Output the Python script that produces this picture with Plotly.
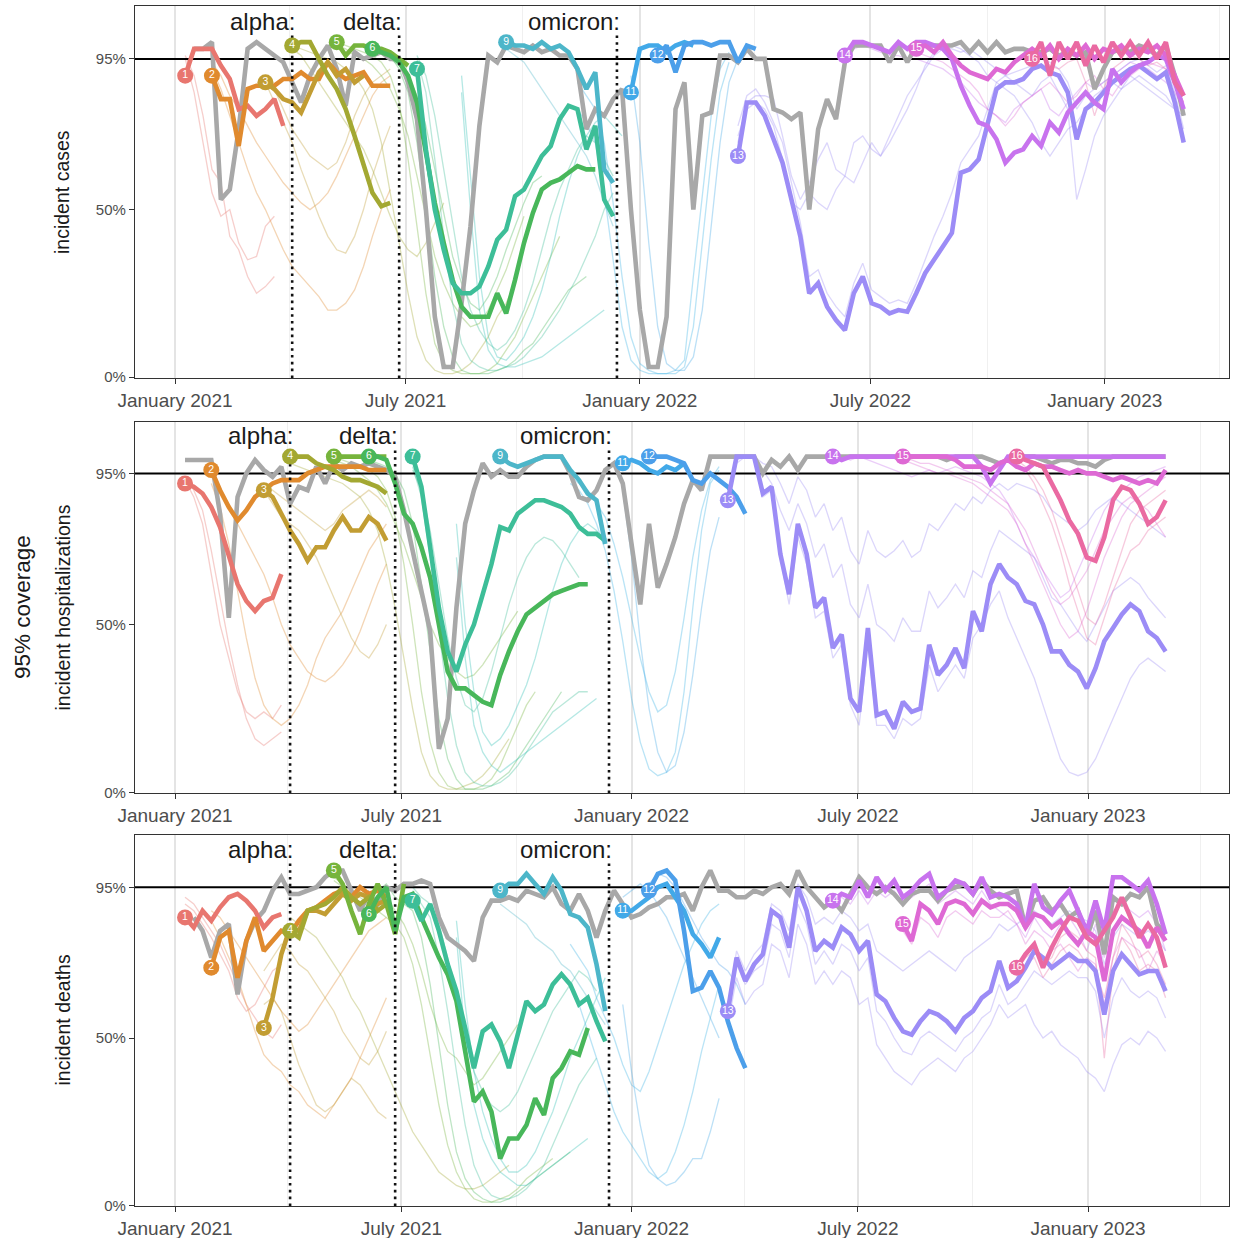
import pandas as pd
import plotly.graph_objects as go

W, H = 1241, 1238

# ---------------- metadata ----------------
ROUND_START = {1: "2021-01-09", 2: "2021-01-30", 3: "2021-03-13", 4: "2021-04-03",
               5: "2021-05-08", 6: "2021-06-05", 7: "2021-07-10", 8: "2021-08-14",
               9: "2021-09-18", 10: "2021-11-13", 11: "2021-12-25", 12: "2022-01-15",
               13: "2022-03-19", 14: "2022-06-11", 15: "2022-08-06", 16: "2022-11-05"}
ROUND_COLOR = {1: "#E8766F", 2: "#E08A2E", 3: "#C29D33", 4: "#A3A832", 5: "#76B43C",
               6: "#48B75A", 7: "#3DBE98", 8: "#2FC0B5", 9: "#4DB6C9", 10: "#3BB3E6",
               11: "#42A9E8", 12: "#4C9FEA", 13: "#9C8CF6", 14: "#C873EE", 15: "#DE69D4",
               16: "#EA6AA2"}
GREY = "#A8A8A8"
variant_names = ["alpha", "delta", "omicron"]
variant_dates = ["2021-04-03", "2021-06-26", "2021-12-14"]
panel_titles = ["incident cases", "incident hospitalizations", "incident deaths"]
x_tick_dates = ["2021-01-01", "2021-07-01", "2022-01-01", "2022-07-01", "2023-01-01"]
x_tick_text = ["January 2021", "July 2021", "January 2022", "July 2022", "January 2023"]
x_minor_dates = ["2021-04-01", "2021-10-01", "2022-04-01", "2022-10-01", "2023-04-01"]
y_tick_vals = [0, 50, 95]
y_tick_text = ["0%", "50%", "95%"]
target_coverage = 95

# ---------------- incident cases ----------------
cases_grey_start = "2021-01-16"
cases_grey = [98, 98, 100, 53, 56, 74, 98, 100, 98, 96, 94, 88, 82, 90, 95, 99, 92, 81, 97, 95,
              96, 97, 95, 95, 88, 77, 50, 18, 3, 3, 22, 45, 75, 96, 94, 99, 98, 97, 99, 97,
              98, 96, 96, 92, 74, 80, 78, 83, 86, 50, 20, 3, 3, 18, 80, 88, 50, 78, 79, 96,
              96, 94, 98, 95, 95, 80, 79, 77, 79, 50, 74, 83, 77, 94, 99, 99, 99, 99, 94, 99,
              94, 99, 99, 99, 99, 99, 100, 97, 100, 97, 100, 97, 98, 98, 97, 97, 98, 96, 97, 96,
              97, 86, 92, 97, 98, 97, 99, 98, 96, 99, 90, 78]
cases_r1 = [90, 98, 98, 98, 93, 89, 80, 81, 78, 80, 83, 75]
cases_r2 = [90, 83, 83, 69, 86, 87, 87, 87, 89, 89, 91, 89, 89, 94, 91, 89, 90, 91, 87, 87, 87]
cases_r3 = [88, 86, 83, 82, 79, 85, 91, 94, 90, 92, 88, 90]
cases_r4 = [99, 100, 100, 95, 90, 86, 80, 72, 64, 55, 51, 52]
cases_r5 = [100, 96, 99, 99, 98, 98, 97, 95, 93]
cases_r6 = [98, 97, 96, 94, 90, 82, 66, 52, 40, 29, 21, 18, 18, 18, 25, 19, 29, 40, 49, 56,
            58, 59, 61, 63, 62, 62]
cases_r7 = [92, 68, 50, 38, 28, 25, 25, 27, 33, 41, 44, 54, 56, 61, 66, 69, 77, 81, 80, 68,
            75, 53, 48]
cases_r9 = [100, 99, 99, 98, 100, 98, 99, 97, 92, 86, 91, 62, 58]
cases_r11 = [85, 98, 99, 99, 97, 99, 100, 99]
cases_r12 = [96, 99, 91, 99, 100, 100, 99, 100, 100, 94, 99, 98]
cases_r13 = [66, 82, 82, 78, 71, 64, 53, 42, 25, 28, 21, 17, 14, 25, 30, 22, 21, 19, 20, 19.5,
             25, 31, 35, 39, 43, 61, 62, 65, 76, 86, 88, 88, 89, 92, 93, 91, 90, 85, 71, 80,
             82, 85, 88, 90, 92, 93, 91, 89, 91, 82, 70]
cases_r14 = [96, 100, 100, 99, 98, 97, 100, 98, 100, 100, 99, 98, 95, 87, 81, 76, 75, 71, 64, 67,
             68, 72, 69, 76, 73, 79, 82, 85, 82, 80, 92, 88, 91, 93, 94, 96, 95, 88, 80]
cases_r15 = [98, 99, 97, 100, 96, 93, 91, 90, 89, 92, 91, 94, 96, 98, 96, 99, 95, 98, 96, 99,
             95, 98, 97, 99, 96, 98, 97, 99, 96, 90, 84]
cases_r16 = [95, 100, 90, 100, 95, 100, 93, 99, 94, 100, 96, 100, 96, 100, 95, 100, 88, 84]

cases_thin_r1 = [[95, 85, 70, 55, 48, 50, 40, 35, 36, 45, 48],
                 [96, 90, 78, 62, 58, 42, 38, 30, 25, 27, 30]]
cases_thin_r2 = [[92, 86, 78, 70, 62, 55, 50, 44, 38, 33, 30, 27, 24, 20, 20, 22, 26, 33, 42, 50, 56],
                 [94, 90, 84, 80, 75, 70, 66, 62, 58, 55, 52, 50, 52, 55, 60, 66, 72, 78, 84, 88, 90]]
cases_thin_r3 = [[88, 82, 76, 70, 62, 55, 48, 42, 38, 37, 42, 50, 60, 68, 75],
                 [90, 86, 80, 74, 70, 66, 64, 62, 64, 70, 78, 84, 88, 90, 92]]
cases_thin_r4 = [[99, 98, 97, 96, 95, 94, 92, 90, 86, 80, 70, 55, 40, 25, 12, 5, 2, 1, 1, 2, 4, 8, 12, 18, 22, 28],
                 [98, 96, 92, 88, 84, 80, 76, 72, 68, 62, 55, 48, 42, 38, 36, 40, 46, 52]]
cases_thin_r5 = [[100, 99, 98, 97, 96, 94, 90, 82, 65, 45, 25, 10, 4, 2, 1, 1, 1, 2, 4, 8, 12, 18, 24, 30, 36, 42],
                 [99, 98, 96, 95, 93, 90, 86, 80, 72, 60, 48, 36, 28, 22, 18, 15, 16, 20, 26, 32, 40, 48]]
cases_thin_r6 = [[99, 98, 96, 92, 85, 70, 50, 30, 15, 6, 2, 1, 1, 1, 2, 3, 5, 8, 10, 14, 18, 22, 26, 28, 30],
                 [98, 97, 95, 93, 90, 84, 75, 62, 48, 36, 28, 22, 20, 24, 30, 38, 45, 52, 58, 60]]
cases_thin_r7 = [[95, 85, 65, 42, 22, 10, 5, 3, 2, 2, 3, 4, 6, 9, 12, 16, 20, 25, 30, 36, 42, 50, 55],
                 [96, 90, 78, 62, 45, 30, 20, 14, 10, 8, 10, 14, 20, 28, 38, 48, 56, 62, 68, 72, 70, 65, 60]]
cases_thin_r8 = [[90, 60, 30, 12, 6, 5, 8, 12, 18, 26, 36, 48, 58, 66, 72, 76, 78, 75, 72],
                 [85, 50, 20, 8, 4, 3, 3, 4, 5, 6, 8, 10, 12, 14, 16, 18, 20]]
cases_thin_r9 = [[98, 96, 94, 90, 86, 82, 78, 74, 70, 66, 60, 52, 45]]
cases_thin_r10 = [[80, 76, 70, 55, 35, 15, 5, 2, 1, 1, 1, 2, 5, 30, 55, 78, 92, 97],
                  [88, 84, 80, 70, 52, 30, 12, 4, 2, 1, 1, 1, 3, 15, 40, 65, 85, 94]]
cases_thin_r11 = [[90, 70, 40, 15, 4, 2, 2, 6, 20, 45, 70, 88, 95]]
cases_thin_r13 = [[70, 82, 84, 84, 83, 72, 60, 53, 58, 65, 70, 62, 60, 70, 72, 68, 66, 70, 75, 80,
                   86, 93, 97, 99, 98, 97, 98, 96, 94, 92, 90, 88, 86, 84, 88, 90, 85, 80, 53, 62,
                   72, 78, 82, 86, 88, 90, 88, 86, 84, 80, 70],
                  [75, 84, 86, 82, 76, 70, 58, 46, 30, 32, 25, 21, 18, 28, 34, 26, 24, 22, 23, 22,
                   28, 35, 42, 48, 55, 64, 68, 72, 80, 88, 90, 91, 92, 93, 95, 94, 92, 88, 80, 84,
                   86, 88, 90, 92, 94, 95, 93, 91, 93, 85, 74],
                  [72, 80, 82, 80, 75, 65, 52, 50, 55, 52, 50, 56, 60, 58, 64, 70, 66, 72, 78, 84,
                   88, 92, 96, 98, 99, 98, 96, 94, 90, 88, 86, 84, 80, 76, 70, 66, 70, 74, 76, 80,
                   84, 86, 88, 86, 90, 88, 86, 84, 82, 80, 78]]
cases_thin_r14 = [[96, 98, 99, 98, 97, 96, 96, 95, 95, 94, 93, 92, 90, 88, 85, 82, 80, 78, 76, 80,
                   82, 84, 86, 80, 78, 82, 85, 88, 86, 88, 90, 92, 94, 93, 92, 90, 88, 85, 80]]
cases_thin_r15 = [[97, 96, 95, 94, 92, 90, 88, 85, 80, 78, 75, 78, 82, 84, 86, 88, 85, 82, 84, 88,
                   90, 86, 84, 88, 90, 92, 94, 93, 92, 88, 82]]
cases_thin_r16 = [[95, 96, 93, 92, 94, 95, 88, 78, 86, 92, 94, 96, 95, 93, 94, 92, 88, 82]]

# ---------------- incident hospitalizations ----------------
hosp_grey_start = "2021-01-09"
hosp_grey = [99, 99, 99, 99, 83, 52, 88, 95, 99, 96, 94, 97, 86, 91, 90, 97, 92, 98, 96, 98,
             97, 98, 97, 96, 94, 84, 72, 60, 48, 13, 22, 55, 80, 90, 98, 94, 96, 94, 94, 97,
             99, 100, 100, 100, 95, 88, 87, 90, 96, 98, 92, 74, 56, 80, 61, 68, 76, 86, 93, 90,
             100, 100, 100, 100, 100, 100, 95, 99, 97, 100, 96, 100, 100, 100, 100, 100, 100, 100, 100, 100,
             100, 100, 99, 100, 100, 100, 100, 99, 100, 100, 100, 100, 99, 98, 99, 100, 100, 100, 99, 98,
             99, 99, 98, 98, 97, 99, 100, 100, 100, 100, 100, 100, 100]
hosp_r1 = [92, 91, 89, 85, 79, 70, 62, 57, 54, 57, 58, 65]
hosp_r2 = [96, 90, 85, 81, 84, 88, 90, 92, 93, 93, 93, 95, 96, 97, 97, 97, 97, 97, 96, 96, 96]
hosp_r3 = [90, 88, 83, 78, 74, 69, 73, 73, 78, 82, 78, 78, 82, 80, 75]
hosp_r4 = [100, 100, 100, 98, 97, 96, 94, 93, 93, 92, 91, 89]
hosp_r5 = [100, 100, 100, 100, 100, 100, 100]
hosp_r6 = [100, 100, 99, 92, 83, 80, 73, 64, 50, 36, 31, 31, 29, 27, 26, 35, 42, 48, 53, 55,
           57, 59, 60, 61, 62, 62]
hosp_r7 = [100, 91, 73, 55, 42, 36, 44, 50, 59, 68, 79, 78, 83, 85, 87, 87, 86, 85, 83, 79,
           77, 77, 75]
hosp_r9 = [100, 98, 97, 98, 99, 100, 100, 100, 96, 93, 89, 87, 74]
hosp_r11 = [98, 99, 98, 96, 95, 97, 96, 98]
hosp_r12 = [100, 100, 100, 99, 98, 93, 92, 95, 93, 91, 88, 83]
hosp_r13 = [87, 100, 100, 100, 89, 91, 71, 59, 80, 71, 55, 58, 43, 47, 28, 24, 49, 23, 24, 19,
            27, 24, 25, 44, 35, 38, 43, 37, 54, 48, 62, 68, 64, 62, 57, 56, 50, 42, 42, 38,
            36, 31, 37, 45, 49, 53, 56, 54, 48, 46, 42]
hosp_r14 = [100, 99, 100, 100, 100, 100, 100, 100, 100, 100, 100, 100, 100, 100, 100, 100, 100, 97, 92, 96,
            100, 100, 100, 100, 100, 100, 100, 100, 100, 100, 100, 100, 100, 100, 100, 100, 100, 100, 100]
hosp_r15 = [100, 100, 100, 100, 100, 100, 99, 97, 97, 97, 96, 98, 99, 97, 96, 98, 97, 97, 96, 95,
            96, 95, 95, 94, 93, 94, 93, 92, 93, 92, 96]
hosp_r16 = [100, 99, 98, 97, 92, 87, 81, 77, 70, 69, 76, 87, 91, 90, 86, 80, 82, 87]

hosp_thin_r1 = [[93, 88, 80, 65, 50, 40, 30, 24, 22, 24, 22, 26],
                [94, 90, 84, 72, 58, 44, 32, 22, 16, 14, 16, 18]]
hosp_thin_r2 = [[92, 85, 74, 60, 46, 34, 26, 22, 20, 22, 26, 32, 40, 46, 50, 54, 60, 66, 72, 76, 80],
                [94, 90, 85, 80, 75, 70, 65, 58, 50, 44, 40, 36, 34, 33, 35, 38, 42, 48, 55, 62, 68]]
hosp_thin_r3 = [[90, 86, 82, 80, 78, 74, 70, 64, 58, 52, 46, 42, 40, 44, 50],
                [92, 90, 88, 86, 84, 82, 80, 78, 80, 84, 86, 88, 90, 88, 85]]
hosp_thin_r4 = [[98, 97, 96, 95, 94, 93, 92, 90, 88, 84, 78, 68, 55, 40, 25, 12, 5, 2, 1, 1, 2, 3, 5, 8, 12, 16]]
hosp_thin_r5 = [[100, 99, 98, 97, 96, 94, 90, 82, 68, 50, 30, 15, 6, 2, 1, 1, 1, 2, 4, 8, 14, 20, 26, 30],
                [99, 98, 97, 95, 93, 90, 86, 80, 74, 66, 58, 50, 44, 40, 36, 34, 35, 38, 42, 46, 50, 54]]
hosp_thin_r6 = [[99, 98, 97, 95, 90, 80, 62, 42, 22, 10, 4, 1, 1, 1, 2, 4, 6, 10, 14, 18, 22, 26, 30]]
hosp_thin_r7 = [[97, 88, 70, 48, 28, 14, 6, 3, 2, 2, 3, 5, 8, 12, 16, 20, 24, 26, 28, 30, 30],
                [96, 90, 78, 62, 46, 34, 26, 24, 28, 36, 46, 56, 64, 70, 74, 76, 75, 72, 68, 64]]
hosp_thin_r8 = [[80, 50, 30, 18, 14, 16, 20, 26, 32, 40, 50, 60, 68, 74, 78, 80, 78, 75],
                [70, 40, 20, 12, 8, 6, 8, 10, 12, 14, 16, 18, 20, 22, 24, 26, 28]]
hosp_thin_r10 = [[92, 90, 86, 80, 72, 60, 45, 28, 15, 7, 5, 6, 12, 30, 55, 78, 92, 96],
                 [94, 92, 90, 86, 82, 74, 64, 52, 40, 30, 24, 26, 36, 52, 70, 84, 93, 97]]
hosp_thin_r11 = [[90, 70, 45, 25, 12, 6, 8, 18, 35, 55, 72, 82]]
hosp_thin_r13 = [[88, 98, 100, 100, 96, 92, 84, 78, 86, 80, 70, 74, 64, 68, 56, 52, 62, 50, 48, 45,
                  52, 48, 48, 60, 55, 58, 62, 58, 66, 64, 72, 78, 76, 74, 72, 70, 64, 58, 56, 52,
                  48, 45, 50, 55, 60, 62, 64, 62, 58, 55, 52],
                 [90, 100, 100, 100, 98, 97, 92, 86, 94, 90, 82, 86, 78, 82, 72, 68, 78, 72, 70, 72,
                  75, 70, 72, 80, 78, 82, 86, 84, 88, 86, 90, 92, 90, 92, 91, 90, 88, 84, 82, 80,
                  78, 80, 84, 86, 88, 86, 84, 82, 80, 78, 76],
                 [86, 99, 100, 100, 88, 90, 70, 56, 76, 68, 52, 54, 40, 44, 26, 20, 44, 20, 20, 16,
                  22, 20, 22, 38, 30, 34, 38, 34, 46, 50, 56, 60, 52, 46, 40, 34, 26, 18, 10, 6,
                  5, 6, 10, 16, 22, 28, 34, 38, 40, 38, 36]]
hosp_thin_r14 = [[100, 100, 99, 100, 99, 98, 97, 96, 95, 94, 95, 96, 95, 96, 97, 96, 95, 94, 92, 90,
                  86, 80, 74, 70, 66, 62, 58, 60, 66, 72, 78, 84, 88, 90, 92, 94, 95, 96, 97]]
hosp_thin_r15 = [[99, 98, 97, 96, 95, 95, 94, 93, 92, 90, 88, 86, 84, 80, 74, 68, 62, 56, 50, 46,
                  48, 54, 62, 70, 76, 82, 86, 88, 90, 92, 94],
                 [99, 99, 98, 98, 97, 96, 95, 94, 93, 92, 90, 88, 86, 82, 78, 72, 66, 60, 56, 58,
                  62, 66, 72, 78, 82, 86, 88, 86, 84, 80, 76]]
hosp_thin_r16 = [[99, 97, 94, 90, 84, 76, 68, 60, 52, 50, 56, 64, 72, 80, 84, 86, 88, 90],
                 [98, 96, 92, 86, 80, 72, 62, 54, 46, 44, 52, 60, 66, 72, 74, 78, 80, 82]]

# ---------------- incident deaths ----------------
deaths_grey_start = "2021-01-16"
deaths_grey = [86, 82, 74, 82, 84, 63, 79, 85, 88, 94, 98, 93, 93, 94, 95, 98, 100, 100, 94, 88,
               93, 90, 95, 94, 96, 96, 97, 96, 86, 80, 78, 76, 73, 86, 91, 91, 92, 91, 94, 93,
               92, 95, 90, 88, 93, 88, 80, 88, 94, 90, 86, 87, 89, 90, 92, 92, 93, 88, 95, 100,
               94, 94, 92, 92, 94, 93, 95, 96, 93, 100, 95, 92, 89, 91, 88, 93, 98, 95, 93, 95,
               93, 90, 93, 94, 94, 91, 94, 95, 96, 93, 97, 94, 92, 93, 94, 83, 91, 92, 88, 90,
               86, 88, 80, 88, 75, 92, 90, 93, 92, 95, 84, 81]
deaths_r1 = [86, 83, 88, 85, 89, 92, 93, 91, 88, 83, 86, 87]
deaths_r2 = [71, 80, 82, 68, 79, 86, 76, 79, 82, 81, 85, 88, 89, 91, 93, 94, 92, 95, 93, 94, 92]
deaths_r3 = [53, 62, 75, 83, 82, 88, 88, 87, 90, 93, 91, 93, 92, 90, 91]
deaths_r4 = [82, 80, 88, 89, 90, 92, 95, 92, 90, 92, 88, 90]
deaths_r5 = [100, 96, 88, 81, 90, 96, 90, 81, 96]
deaths_r6 = [87, 92, 95, 82, 92, 93, 86, 80, 74, 69, 61, 46, 31, 34, 28, 14, 20, 20, 24, 32,
             27, 38, 41, 46, 45, 53]
deaths_r7 = [91, 85, 90, 82, 72, 64, 53, 41, 52, 54, 49, 41, 51, 61, 58, 60, 66, 69, 66, 60,
             62, 55, 49]
deaths_r9 = [94, 96, 96, 99, 96, 93, 98, 94, 87, 86, 83, 72, 58]
deaths_r11 = [88, 88, 90, 92, 95, 96, 92, 88, 81, 78, 74, 80]
deaths_r12 = [94, 99, 100, 97, 82, 64, 65, 70, 65, 55, 47, 41]
deaths_r13 = [58, 74, 67, 72, 75, 88, 86, 77, 95, 88, 76, 79, 77, 83, 81, 76, 79, 63, 61, 56,
              52, 51, 55, 58, 57, 55, 52, 56, 58, 62, 64, 73, 65, 67, 71, 76, 74, 71, 73, 75,
              73, 73, 70, 57, 70, 75, 72, 69, 70, 70, 64]
deaths_r14 = [91, 93, 92, 97, 92, 98, 94, 97, 92, 94, 97, 99, 92, 94, 97, 96, 93, 98, 92, 93,
              92, 90, 83, 96, 89, 87, 91, 94, 88, 82, 91, 82, 98, 98, 96, 94, 97, 90, 81]
deaths_r15 = [84, 79, 90, 88, 84, 90, 91, 90, 87, 91, 89, 90, 90, 88, 83, 87, 86, 83, 85, 81,
              78, 82, 80, 67, 82, 86, 84, 82, 77, 83, 79]
deaths_r16 = [71, 75, 78, 71, 77, 82, 86, 85, 80, 78, 82, 86, 92, 86, 80, 84, 80, 71]

deaths_thin_r1 = [[90, 88, 84, 80, 75, 70, 62, 58, 60, 65, 70, 72],
                  [92, 90, 86, 82, 78, 72, 66, 60, 56, 52, 50, 54]]
deaths_thin_r2 = [[85, 80, 74, 68, 60, 52, 45, 42, 40, 36, 34, 30, 28, 26, 30, 34, 38, 44, 50, 56, 62],
                  [88, 86, 82, 78, 74, 70, 66, 62, 58, 55, 52, 54, 58, 62, 66, 70, 74, 78, 82, 84, 86]]
deaths_thin_r3 = [[60, 62, 58, 50, 42, 36, 30, 28, 30, 34, 38, 36, 32, 28, 26],
                  [70, 74, 78, 76, 72, 70, 66, 62, 58, 52, 48, 44, 42, 46, 52]]
deaths_thin_r4 = [[86, 84, 82, 80, 76, 72, 68, 62, 58, 52, 46, 40, 34, 28, 22, 18, 14, 10, 8, 6, 5, 5, 6, 8, 10, 12]]
deaths_thin_r5 = [[98, 96, 94, 92, 90, 88, 86, 84, 80, 72, 60, 45, 30, 18, 10, 5, 2, 1, 1, 2, 3, 5, 8, 10, 12, 14],
                  [97, 95, 92, 90, 92, 94, 92, 88, 84, 78, 70, 60, 52, 46, 44, 40, 36, 38, 42, 46, 50, 54]]
deaths_thin_r6 = [[95, 94, 96, 92, 90, 88, 80, 66, 48, 30, 16, 8, 4, 2, 1, 1, 2, 4, 6, 8, 10, 12, 14, 16]]
deaths_thin_r7 = [[94, 90, 86, 74, 58, 40, 24, 12, 6, 3, 2, 2, 3, 5, 8, 12, 18, 24, 30, 36, 40, 44],
                  [95, 92, 90, 84, 74, 62, 50, 40, 34, 30, 28, 30, 34, 40, 46, 52, 58, 62, 66, 70, 68, 64]]
deaths_thin_r8 = [[85, 60, 40, 28, 20, 14, 10, 10, 12, 16, 22, 28, 36, 44, 50, 56, 62, 68],
                  [80, 50, 30, 20, 14, 10, 8, 6, 6, 8, 10, 12, 14, 16, 18, 20]]
deaths_thin_r9 = [[90, 88, 86, 84, 80, 78, 76, 72, 70, 66, 62, 58, 54]]
deaths_thin_r10 = [[78, 74, 70, 62, 56, 50, 42, 36, 34, 40, 48, 56, 64, 72, 78, 84, 88, 90],
                   [66, 60, 52, 44, 36, 28, 22, 18, 14, 10, 8, 10, 16, 24, 34, 46, 56, 66]]
deaths_thin_r11 = [[92, 94, 96, 94, 90, 86, 80, 74, 68, 62, 56, 50],
                   [60, 40, 24, 12, 8, 6, 7, 10, 14, 14, 22, 32]]
deaths_thin_r12 = [[96, 99, 98, 95, 90, 85, 80, 76, 72, 70, 66, 60]]
deaths_thin_r13 = [[56, 72, 66, 70, 72, 84, 82, 74, 90, 84, 72, 76, 72, 78, 76, 70, 74, 58, 55, 50,
                    46, 45, 50, 52, 50, 48, 46, 50, 52, 56, 58, 66, 60, 62, 66, 70, 68, 66, 68, 70,
                    68, 68, 64, 50, 62, 68, 64, 62, 64, 62, 56],
                   [60, 76, 70, 75, 78, 90, 88, 82, 96, 92, 84, 86, 84, 88, 86, 82, 84, 76, 74, 72,
                    70, 72, 74, 76, 74, 72, 70, 74, 76, 78, 80, 84, 82, 84, 86, 88, 86, 84, 86, 88,
                    86, 85, 82, 72, 80, 84, 82, 80, 82, 80, 76],
                   [54, 68, 60, 64, 66, 78, 76, 68, 84, 78, 66, 70, 66, 70, 68, 60, 62, 48, 44, 40,
                    38, 36, 40, 42, 44, 42, 40, 44, 46, 50, 54, 60, 56, 58, 60, 54, 50, 52, 48, 46,
                    44, 40, 38, 34, 42, 48, 50, 48, 52, 50, 46]]
deaths_thin_r14 = [[90, 92, 90, 94, 90, 94, 92, 94, 90, 92, 94, 96, 90, 92, 94, 92, 90, 94, 90, 88,
                    86, 84, 80, 86, 82, 80, 84, 86, 82, 76, 84, 74, 88, 90, 88, 86, 88, 84, 76]]
deaths_thin_r15 = [[82, 78, 86, 84, 80, 86, 88, 86, 84, 88, 86, 86, 88, 84, 78, 82, 80, 76, 78, 74,
                    70, 74, 72, 60, 74, 80, 78, 76, 70, 76, 72]]
deaths_thin_r16 = [[68, 72, 74, 68, 72, 76, 78, 76, 72, 70, 62, 74, 84, 80, 74, 76, 72, 66],
                   [70, 74, 76, 72, 74, 80, 82, 80, 76, 74, 44, 70, 80, 76, 70, 72, 70, 62]]

# ---------------- assemble per-panel tables ----------------
panels = [
    dict(
        grey=cases_grey, grey_start=cases_grey_start,
        thick={1: cases_r1, 2: cases_r2, 3: cases_r3, 4: cases_r4, 5: cases_r5, 6: cases_r6,
               7: cases_r7, 9: cases_r9, 11: cases_r11, 12: cases_r12, 13: cases_r13,
               14: cases_r14, 15: cases_r15, 16: cases_r16},
        thin={1: cases_thin_r1, 2: cases_thin_r2, 3: cases_thin_r3, 4: cases_thin_r4,
              5: cases_thin_r5, 6: cases_thin_r6, 7: cases_thin_r7, 8: cases_thin_r8,
              9: cases_thin_r9, 10: cases_thin_r10, 11: cases_thin_r11, 13: cases_thin_r13,
              14: cases_thin_r14, 15: cases_thin_r15, 16: cases_thin_r16},
        xrange=["2020-11-30 14:00", "2023-04-08 14:00"],
        yrange=[-0.3, 110.8],
        ydom=[1 - 378 / H, 1 - 6 / H],
    ),
    dict(
        grey=hosp_grey, grey_start=hosp_grey_start,
        thick={1: hosp_r1, 2: hosp_r2, 3: hosp_r3, 4: hosp_r4, 5: hosp_r5, 6: hosp_r6,
               7: hosp_r7, 9: hosp_r9, 11: hosp_r11, 12: hosp_r12, 13: hosp_r13,
               14: hosp_r14, 15: hosp_r15, 16: hosp_r16},
        thin={1: hosp_thin_r1, 2: hosp_thin_r2, 3: hosp_thin_r3, 4: hosp_thin_r4,
              5: hosp_thin_r5, 6: hosp_thin_r6, 7: hosp_thin_r7, 8: hosp_thin_r8,
              10: hosp_thin_r10, 11: hosp_thin_r11, 13: hosp_thin_r13, 14: hosp_thin_r14,
              15: hosp_thin_r15, 16: hosp_thin_r16},
        xrange=["2020-11-30 00:00", "2023-04-23 17:00"],
        yrange=[-0.15, 110.3],
        ydom=[1 - 793 / H, 1 - 422 / H],
    ),
    dict(
        grey=deaths_grey, grey_start=deaths_grey_start,
        thick={1: deaths_r1, 2: deaths_r2, 3: deaths_r3, 4: deaths_r4, 5: deaths_r5,
               6: deaths_r6, 7: deaths_r7, 9: deaths_r9, 11: deaths_r11, 12: deaths_r12,
               13: deaths_r13, 14: deaths_r14, 15: deaths_r15, 16: deaths_r16},
        thin={1: deaths_thin_r1, 2: deaths_thin_r2, 3: deaths_thin_r3, 4: deaths_thin_r4,
              5: deaths_thin_r5, 6: deaths_thin_r6, 7: deaths_thin_r7, 8: deaths_thin_r8,
              9: deaths_thin_r9, 10: deaths_thin_r10, 11: deaths_thin_r11, 12: deaths_thin_r12,
              13: deaths_thin_r13, 14: deaths_thin_r14, 15: deaths_thin_r15, 16: deaths_thin_r16},
        xrange=["2020-11-30 00:00", "2023-04-23 17:00"],
        yrange=[-0.15, 110.6],
        ydom=[1 - 1206 / H, 1 - 835 / H],
    ),
]


def weekly(start, n):
    return pd.date_range(start=start, periods=n, freq="7D")


FONT = "Liberation Sans, Arial, Helvetica, sans-serif"
fig = go.Figure()
annotations = []
XDOM = [135 / W, 1229 / W]

for i, p in enumerate(panels, start=1):
    xa = "x" if i == 1 else f"x{i}"
    ya = "y" if i == 1 else f"y{i}"
    common = dict(xaxis=xa, yaxis=ya, hoverinfo="skip", showlegend=False)

    # thin scenario lines
    for r, lists in p["thin"].items():
        for vals in lists:
            fig.add_trace(go.Scatter(x=weekly(ROUND_START[r], len(vals)), y=vals, mode="lines",
                                     line=dict(color=ROUND_COLOR[r], width=1.3),
                                     opacity=0.35, **common))
    # 95% reference line across the panel
    fig.add_trace(go.Scatter(x=p["xrange"], y=[target_coverage, target_coverage], mode="lines",
                             line=dict(color="black", width=2), **common))
    # grey thick line
    g = p["grey"]
    fig.add_trace(go.Scatter(x=weekly(p["grey_start"], len(g)), y=g, mode="lines",
                             line=dict(color=GREY, width=4.6), **common))
    # thick round lines
    for r, vals in p["thick"].items():
        fig.add_trace(go.Scatter(x=weekly(ROUND_START[r], len(vals)), y=vals, mode="lines",
                                 line=dict(color=ROUND_COLOR[r], width=4.6), **common))
    # variant dotted lines
    for name, d in zip(variant_names, variant_dates):
        fig.add_trace(go.Scatter(x=[d, d], y=[p["yrange"][0], 103], mode="lines",
                                 line=dict(color="#111111", width=2.6, dash="2.6px,4.2px"),
                                 **common))
        annotations.append(dict(x=d, y=106.3, xref=xa, yref=ya, text=name + ":",
                                showarrow=False, xanchor="right", yanchor="middle", xshift=5,
                                font=dict(family=FONT, size=24, color="#1a1a1a")))
    # round number badges
    rs = list(p["thick"].keys())
    fig.add_trace(go.Scatter(
        x=[weekly(ROUND_START[r], 1)[0] for r in rs],
        y=[p["thick"][r][0] for r in rs],
        mode="markers+text", text=[str(r) for r in rs], textposition="middle center",
        marker=dict(size=16, color=[ROUND_COLOR[r] for r in rs], line=dict(width=0)),
        textfont=dict(family=FONT, size=10.5, color="white"),
        cliponaxis=False, **common))

    axis_x = dict(domain=XDOM, anchor=ya, type="date", range=p["xrange"],
                  tickmode="array", tickvals=x_tick_dates, ticktext=x_tick_text,
                  ticks="outside", ticklen=5, tickwidth=1.2, tickcolor="#333333",
                  tickfont=dict(family=FONT, size=19, color="#4D4D4D"),
                  showgrid=True, gridcolor="#E4E4E4", gridwidth=1.6,
                  minor=dict(tickmode="array", tickvals=x_minor_dates, showgrid=True,
                             gridcolor="#F0F0F0", gridwidth=1.0, ticks=""),
                  showline=True, mirror=True, linecolor="#333333", linewidth=1.3,
                  zeroline=False, automargin=False, fixedrange=True)
    axis_y = dict(domain=p["ydom"], anchor=xa, range=p["yrange"],
                  tickmode="array", tickvals=y_tick_vals, ticktext=y_tick_text,
                  ticks="outside", ticklen=5, tickwidth=1.2, tickcolor="#333333",
                  tickfont=dict(family=FONT, size=15, color="#4D4D4D"),
                  showgrid=False, zeroline=False,
                  showline=True, mirror=True, linecolor="#333333", linewidth=1.3,
                  automargin=False, fixedrange=True)
    fig.layout["xaxis" if i == 1 else f"xaxis{i}"] = axis_x
    fig.layout["yaxis" if i == 1 else f"yaxis{i}"] = axis_y

    annotations.append(dict(x=62 / W, y=sum(p["ydom"]) / 2, xref="paper", yref="paper",
                            text=panel_titles[i - 1], showarrow=False, textangle=-90,
                            xanchor="center", yanchor="middle",
                            font=dict(family=FONT, size=19.5, color="#1a1a1a")))

annotations.append(dict(x=22 / W, y=1 - 607 / H, xref="paper", yref="paper",
                        text="95% coverage", showarrow=False, textangle=-90,
                        xanchor="center", yanchor="middle",
                        font=dict(family=FONT, size=22.5, color="#1a1a1a")))

fig.update_layout(width=W, height=H, margin=dict(l=0, r=0, t=0, b=0),
                  plot_bgcolor="white", paper_bgcolor="white",
                  annotations=annotations, showlegend=False)

fig.write_html("out.html", config={"displayModeBar": False, "staticPlot": False},
               post_script="document.body.style.margin='0';document.body.style.padding='0';")
